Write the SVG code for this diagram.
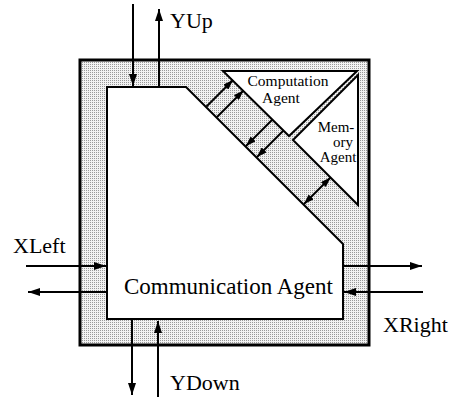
<svg xmlns="http://www.w3.org/2000/svg" width="451" height="397" viewBox="0 0 451 397">
  <style>
    .frame { fill: url(#stipple); stroke: #000; stroke-width: 3; }
    .box { fill: #fff; stroke: #000; stroke-width: 2; stroke-linejoin: miter; }
    .lbl { font-family: "Liberation Serif", "Times New Roman", serif; fill: #000; }
    .big { font-size: 22px; }
    .small { font-size: 13.5px; }
    .conn line { stroke: #000; stroke-width: 2; fill: none; }
  </style>
  <defs>
    <pattern id="stipple" width="2" height="2" patternUnits="userSpaceOnUse">
      <rect width="2" height="2" fill="#f2f2f2"/>
      <rect width="1" height="1" fill="#999"/>
    </pattern>
    <marker id="ah" viewBox="0 0 12 8" refX="12" refY="4" markerWidth="12" markerHeight="8" markerUnits="userSpaceOnUse" orient="auto">
      <path d="M0,0 L12,4 L0,8 Z" fill="#000"/>
    </marker>
    <marker id="ahs" viewBox="0 0 10 7" refX="10" refY="3.5" markerWidth="10" markerHeight="7" markerUnits="userSpaceOnUse" orient="auto-start-reverse">
      <path d="M0,0 L10,3.5 L0,7 Z" fill="#000"/>
    </marker>
  </defs>

  <g id="node-pe">
    <rect class="frame" x="80" y="60" width="289" height="285"/>
  </g>

  <g id="node-comm">
    <polygon class="box" points="107,87 186,87 343,244 343,319 107,319"/>
    <text class="lbl big" x="124" y="294" style="font-size:23px">Communication Agent</text>
  </g>

  <g id="node-comp">
    <polygon class="box" points="223,71 357,71 289,136"/>
    <text class="lbl" x="288" y="86" text-anchor="middle" style="font-size:15.5px">Computation</text>
    <text class="lbl" x="281" y="103" text-anchor="middle" style="font-size:15.5px">Agent</text>
  </g>

  <g id="node-mem">
    <polygon class="box" points="358,75 293,140 358,205"/>
    <text class="lbl small" x="336" y="132" text-anchor="middle" style="font-size:15px">Mem-</text>
    <text class="lbl small" x="343" y="147" text-anchor="middle" style="font-size:15px">ory</text>
    <text class="lbl small" x="338" y="162" text-anchor="middle" style="font-size:15px">Agent</text>
  </g>

  <g id="connectors" class="conn">
    <!-- YUp pair -->
    <line x1="133" y1="4" x2="133" y2="86" marker-end="url(#ah)"/>
    <line x1="159" y1="87" x2="159" y2="9" marker-end="url(#ah)"/>
    <!-- YDown pair -->
    <line x1="132" y1="319" x2="132" y2="395" marker-end="url(#ah)"/>
    <line x1="158" y1="397" x2="158" y2="321" marker-end="url(#ah)"/>
    <!-- XLeft pair -->
    <line x1="26" y1="266" x2="106" y2="266" marker-end="url(#ah)"/>
    <line x1="107" y1="292" x2="28" y2="292" marker-end="url(#ah)"/>
    <!-- XRight pair -->
    <line x1="343" y1="266" x2="422" y2="266" marker-end="url(#ah)"/>
    <line x1="423" y1="292" x2="344" y2="292" marker-end="url(#ah)"/>
    <!-- comm -> computation -->
    <line x1="206.5" y1="106.5" x2="233" y2="80" marker-end="url(#ahs)"/>
    <line x1="217" y1="117" x2="243.5" y2="90.5" marker-end="url(#ahs)"/>
    <!-- computation -> comm -->
    <line x1="272.5" y1="119.5" x2="246" y2="146" marker-end="url(#ahs)"/>
    <line x1="283.5" y1="130.5" x2="257" y2="157" marker-end="url(#ahs)"/>
    <!-- comm <-> memory -->
    <line x1="304" y1="204" x2="330.5" y2="177.5" marker-start="url(#ahs)" marker-end="url(#ahs)"/>
  </g>

  <g id="labels">
    <text class="lbl big" x="170" y="28">YUp</text>
    <text class="lbl big" x="13" y="253">XLeft</text>
    <text class="lbl big" x="383" y="332">XRight</text>
    <text class="lbl big" x="170" y="390">YDown</text>
  </g>
</svg>
